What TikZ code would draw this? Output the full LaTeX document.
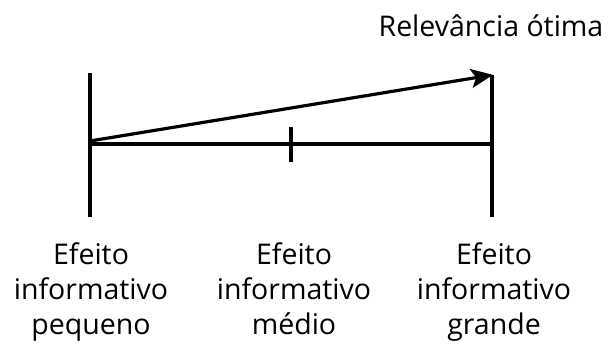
\documentclass[tikz,border=0pt]{standalone}
\usepackage{fontspec}
\setmainfont{Open Sans}
\usetikzlibrary{arrows.meta}
\begin{document}
\begin{tikzpicture}[x=1pt,y=-1pt,
  axis/.style={line width=3.2pt},
  lbl/.style={inner sep=0pt, align=center, anchor=base, font=\fontsize{28.5}{35}\selectfont},
  ttl/.style={inner sep=0pt, anchor=base, font=\fontsize{28.5}{35}\selectfont}]
\useasboundingbox (0,0) rectangle (609,347);
\fill[white] (0,0) rectangle (609,347);
\coordinate (LT) at (90,73);
\coordinate (LB) at (90,217);
\coordinate (RT) at (492,75);
\coordinate (RB) at (492,217);
\coordinate (LM) at (90,144);
\coordinate (RM) at (492,144);
\coordinate (TT) at (291,127);
\coordinate (TB) at (291,162);
\coordinate (AS) at (90,141);
\draw[axis] (LT) -- (LB);
\draw[axis] (RT) -- (RB);
\draw[axis] (LM) -- (RM);
\draw[axis] (TT) -- (TB);
\draw[axis, -{Stealth[length=22pt,width=19pt,inset=5pt]}, shorten >=-1pt] (AS) -- (RT);
\node[ttl] (title) at (491,37) {Relevância ótima};
\node[lbl] (l1) at (91,334) {Efeito\\informativo\\pequeno};
\node[lbl] (l2) at (294,334) {Efeito\\informativo\\médio};
\node[lbl] (l3) at (494,334) {Efeito\\informativo\\grande};
\end{tikzpicture}
\end{document}
